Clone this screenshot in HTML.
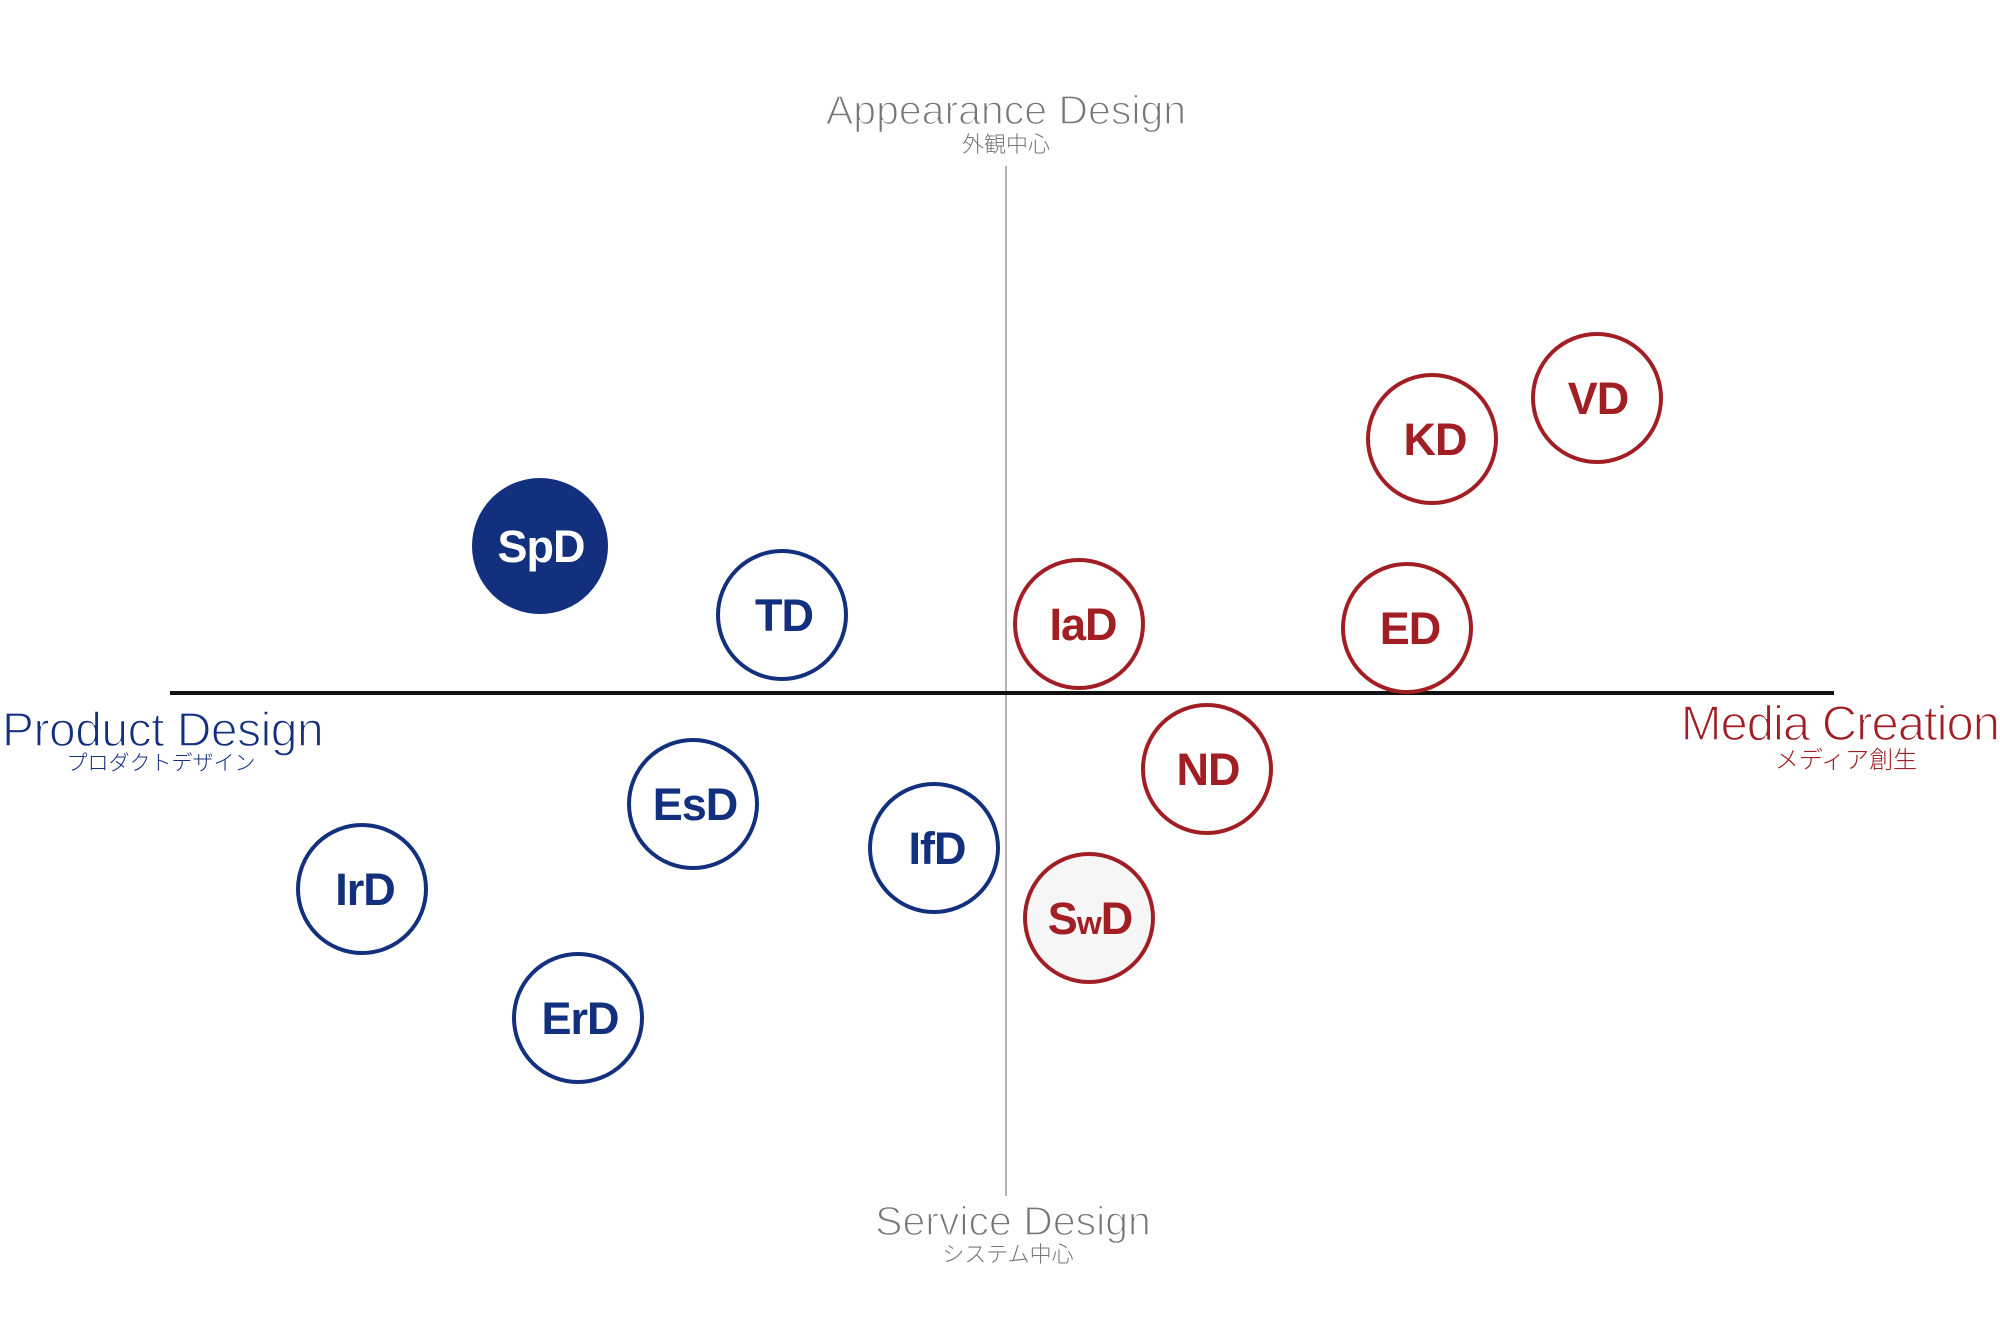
<!DOCTYPE html>
<html><head><meta charset="utf-8"><style>
html,body{margin:0;padding:0;background:#fff;}
svg{display:block;}
.lbl{font-family:"Liberation Sans",Arial,sans-serif;font-weight:bold;font-size:45px;letter-spacing:-1px;}
.ax{font-family:"Liberation Sans","Noto Sans CJK JP",sans-serif;stroke:#fff;stroke-width:1.4px;}
.jp{font-family:"Noto Sans CJK JP","Liberation Sans",sans-serif;font-weight:300;}
</style></head><body>
<svg width="2000" height="1318" viewBox="0 0 2000 1318" xmlns="http://www.w3.org/2000/svg">
<line x1="1006" y1="166" x2="1006" y2="1196" stroke="#999" stroke-width="1.5"/>
<line x1="170" y1="693" x2="1834" y2="693" stroke="#111" stroke-width="4"/>

<text class="ax" x="1006" y="124" text-anchor="middle" font-size="41" fill="#777">Appearance Design</text>
<text class="jp" x="1006" y="152" text-anchor="middle" font-size="22" fill="#777">外観中心</text>

<text class="ax" x="1013" y="1235" text-anchor="middle" font-size="41" fill="#777">Service Design</text>
<text class="jp" x="1008" y="1262" text-anchor="middle" font-size="22" fill="#777">システム中心</text>

<text class="ax" x="2" y="746" font-size="48" fill="#13307f" letter-spacing="-0.5">Product Design</text>
<text class="jp" x="161" y="770" text-anchor="middle" font-size="21" fill="#13307f">プロダクトデザイン</text>

<text class="ax" x="1999" y="740" text-anchor="end" font-size="49" fill="#a11f24" letter-spacing="-1">Media Creation</text>
<text class="jp" x="1846" y="768" text-anchor="middle" font-size="24" fill="#a11f24">メディア創生</text>

<g stroke-width="4">
<circle cx="540" cy="546" r="66" fill="#13307f" stroke="#13307f"/>
<circle cx="782" cy="615" r="64" fill="#fff" stroke="#13307f"/>
<circle cx="693" cy="804" r="64" fill="#fff" stroke="#13307f"/>
<circle cx="362" cy="889" r="64" fill="#fff" stroke="#13307f"/>
<circle cx="578" cy="1018" r="64" fill="#fff" stroke="#13307f"/>
<circle cx="934" cy="848" r="64" fill="#fff" stroke="#13307f"/>
<circle cx="1079" cy="624" r="64" fill="#fff" stroke="#a11f24"/>
<circle cx="1407" cy="628" r="64" fill="#fff" stroke="#a11f24"/>
<circle cx="1432" cy="439" r="64" fill="#fff" stroke="#a11f24"/>
<circle cx="1597" cy="398" r="64" fill="#fff" stroke="#a11f24"/>
<circle cx="1207" cy="769" r="64" fill="#fff" stroke="#a11f24"/>
<circle cx="1089" cy="918" r="64" fill="#f6f6f6" stroke="#a11f24"/>
</g>
<g class="lbl" text-anchor="middle">
<text x="541" y="562" fill="#fff">SpD</text>
<text x="784" y="631" fill="#13307f">TD</text>
<text x="695" y="820" fill="#13307f">EsD</text>
<text x="365" y="905" fill="#13307f">IrD</text>
<text x="580" y="1034" fill="#13307f">ErD</text>
<text x="937" y="864" fill="#13307f">IfD</text>
<text x="1083" y="640" fill="#a11f24">IaD</text>
<text x="1410" y="644" fill="#a11f24">ED</text>
<text x="1435" y="455" fill="#a11f24">KD</text>
<text x="1598" y="414" fill="#a11f24">VD</text>
<text x="1208" y="785" fill="#a11f24">ND</text>
<text x="1090" y="934" fill="#a11f24">S<tspan font-size="32">w</tspan>D</text>
</g>
</svg>
</body></html>
